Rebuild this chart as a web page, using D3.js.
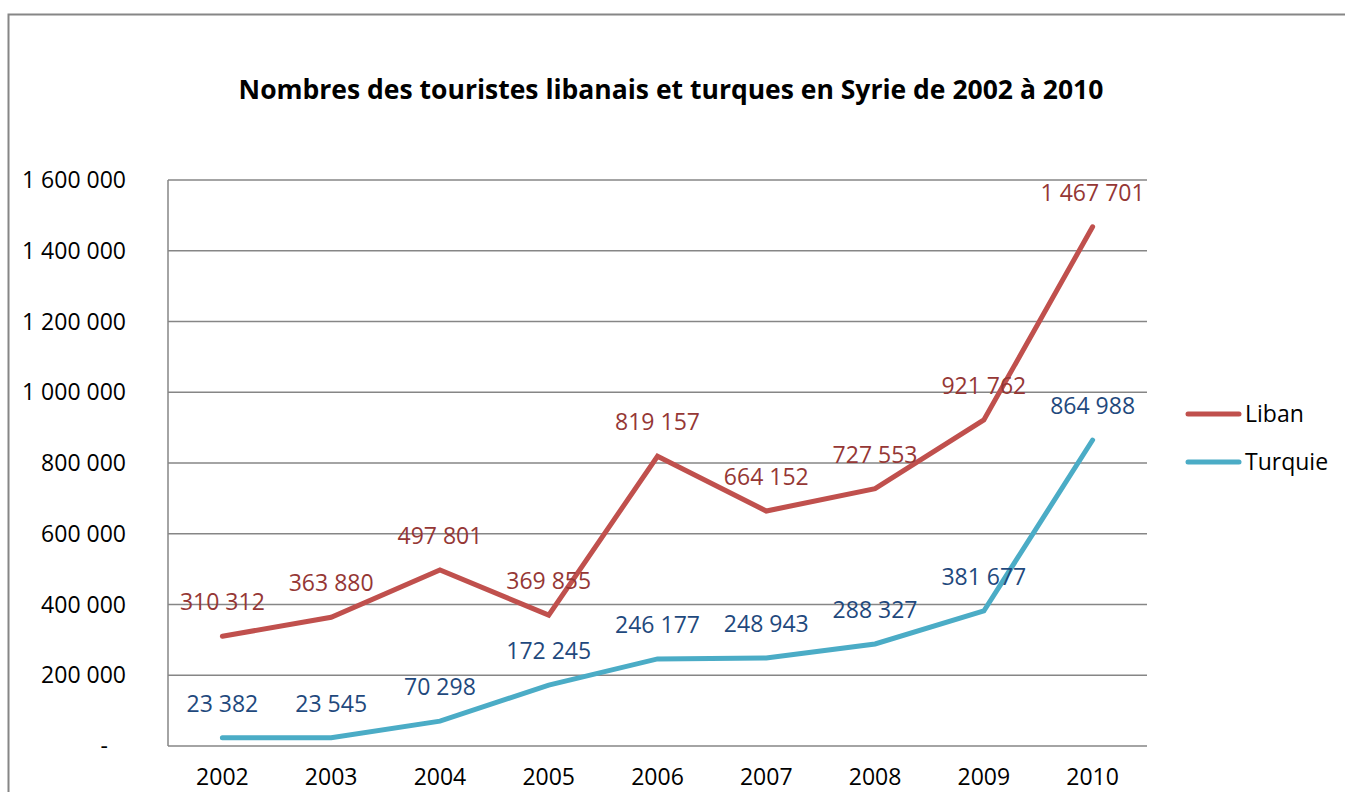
<!DOCTYPE html>
<html>
<head>
<meta charset="utf-8">
<script src="https://cdn.jsdelivr.net/npm/d3@7"></script>
<style>
  body { margin: 0; background: #fff; }
  svg { display: block; font-family: "Open Sans", sans-serif; }
</style>
</head>
<body>
<svg width="1345" height="792"></svg>
<script>
const years = ["2002", "2003", "2004", "2005", "2006", "2007", "2008", "2009", "2010"];
const liban = [310312, 363880, 497801, 369855, 819157, 664152, 727553, 921762, 1467701];
const turquie = [23382, 23545, 70298, 172245, 246177, 248943, 288327, 381677, 864988];
const yTicks = [0, 200000, 400000, 600000, 800000, 1000000, 1200000, 1400000, 1600000];

const series = [
  { name: "Liban", values: liban, color: "#C0504D", labelColor: "#953735" },
  { name: "Turquie", values: turquie, color: "#4BACC6", labelColor: "#1F497D" }
];

const margin = { top: 180, left: 168 },
    width = 1147 - 168,
    height = 746 - 180;

const svg = d3.select("svg");

// outer frame
svg.append("rect")
    .attr("x", 8.5).attr("y", 14.5)
    .attr("width", 1400).attr("height", 900)
    .attr("fill", "none")
    .attr("stroke", "#868686")
    .attr("stroke-width", 2);

svg.append("text")
    .attr("x", 671).attr("y", 99)
    .attr("text-anchor", "middle")
    .style("font-size", "26.5px")
    .style("font-weight", "bold")
    .text("Nombres des touristes libanais et turques en Syrie de 2002 à 2010");

const g = svg.append("g")
    .attr("transform", `translate(${margin.left},${margin.top})`);

const x = d3.scaleBand()
    .domain(years)
    .range([0, width]);

const y = d3.scaleLinear()
    .domain([0, 1600000])
    .range([height, 0]);

const fmt = v => v === 0 ? "-" : d3.format(",")(v).replace(/,/g, " ");

// gridlines
g.selectAll(".grid")
    .data(yTicks)
    .enter().append("line")
    .attr("x1", 0).attr("x2", width)
    .attr("y1", d => y(d)).attr("y2", d => y(d))
    .attr("stroke", "#868686")
    .attr("stroke-width", 1.5);

g.append("line")
    .attr("x1", 0).attr("x2", 0)
    .attr("y1", 0).attr("y2", height)
    .attr("stroke", "#868686")
    .attr("stroke-width", 1.5);

// Y labels
g.selectAll(".ylab")
    .data(yTicks)
    .enter().append("text")
    .attr("x", d => d === 0 ? -60 : -42)
    .attr("y", d => y(d))
    .attr("dy", "0.35em")
    .attr("text-anchor", "end")
    .style("font-size", "23px")
    .text(fmt);

// X labels
g.selectAll(".xlab")
    .data(years)
    .enter().append("text")
    .attr("x", d => x(d) + x.bandwidth() / 2)
    .attr("y", height + 31)
    .attr("dy", "0.35em")
    .attr("text-anchor", "middle")
    .style("font-size", "23px")
    .text(d => d);

const line = d3.line()
    .x((d, i) => x(years[i]) + x.bandwidth() / 2)
    .y(d => y(d));

series.forEach(s => {
  g.append("path")
      .datum(s.values)
      .attr("fill", "none")
      .attr("stroke", s.color)
      .attr("stroke-width", 5)
      .attr("stroke-linecap", "round")
      .attr("d", line);

  g.selectAll(null)
      .data(s.values)
      .enter().append("text")
      .attr("x", (d, i) => x(years[i]) + x.bandwidth() / 2)
      .attr("y", d => y(d) - 34)
      .attr("dy", "0.35em")
      .attr("text-anchor", "middle")
      .attr("fill", s.labelColor)
      .style("font-size", "23px")
      .text(fmt);
});

// legend
const legend = svg.append("g");
series.forEach((s, i) => {
  const ly = 414 + i * 48;
  legend.append("line")
      .attr("x1", 1188).attr("x2", 1239)
      .attr("y1", ly).attr("y2", ly)
      .attr("stroke", s.color)
      .attr("stroke-width", 5)
      .attr("stroke-linecap", "round");
  legend.append("text")
      .attr("x", 1245).attr("y", ly)
      .attr("dy", "0.35em")
      .style("font-size", "23px")
      .text(s.name);
});
</script>
</body>
</html>
